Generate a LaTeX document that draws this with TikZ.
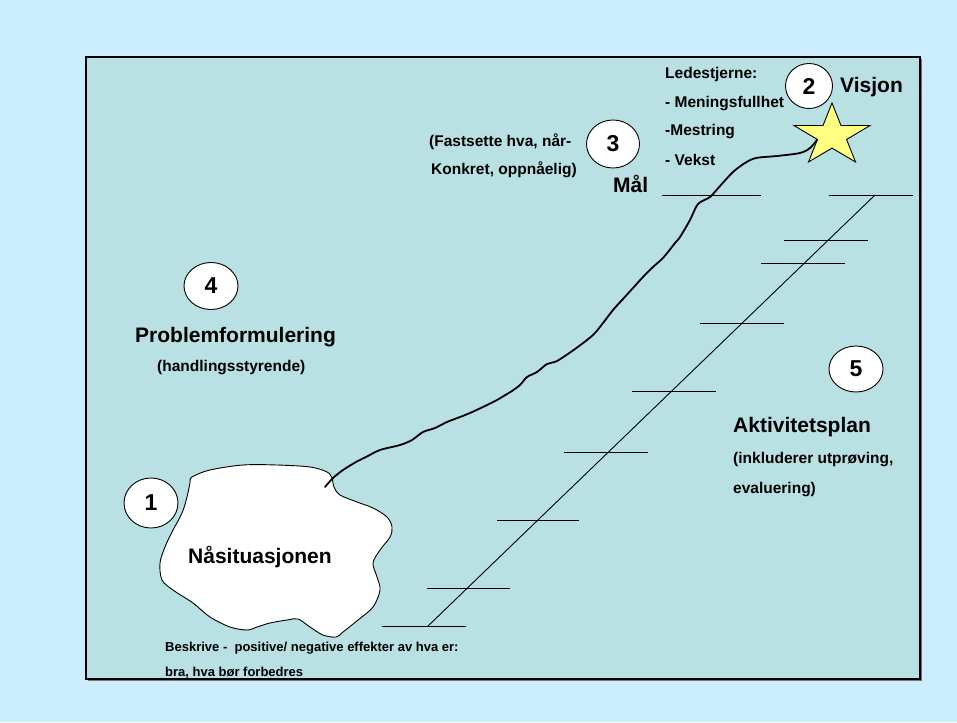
\documentclass[tikz,border=0pt]{standalone}
\usepackage{fontspec}
\setmainfont{Liberation Sans}
\usetikzlibrary{shapes.geometric,calc}
\definecolor{outerbg}{RGB}{204,236,255}
\definecolor{innerbg}{RGB}{185,224,227}
\definecolor{staryellow}{RGB}{255,255,128}
\tikzset{
  num/.style={ellipse,draw=black,line width=0.9pt,fill=white,inner sep=0pt,
    font=\fontsize{23}{26}\selectfont\bfseries},
  big/.style={anchor=base west,inner sep=0pt,font=\fontsize{21}{24}\selectfont\bfseries},
  small/.style={anchor=base west,inner sep=0pt,font=\fontsize{15.5}{18}\selectfont\bfseries},
  tiny/.style={anchor=base west,inner sep=0pt,font=\fontsize{13}{16}\selectfont\bfseries},
  stair/.style={line width=1pt,draw=black},
  diag/.style={line width=0.9pt,draw=black},
  squiggle/.style={line width=1.8pt,draw=black,line cap=round,line join=round},
}
\begin{document}
\begin{tikzpicture}[x=1pt,y=-1pt]
\useasboundingbox (0,0) rectangle (957,722);
\fill[outerbg] (0,0) rectangle (957,722);
% frame
\fill[black!55] (88,59) rectangle (922,681);
\draw[fill=innerbg,line width=1.4pt] (86,57) rectangle (920,679);

% cloud (Nasituasjonen)
\draw[fill=white,line width=0.9pt] plot[smooth cycle,tension=0.55] coordinates {
 (192,477) (210,470) (243,465) (277,465) (310,467) (327,472) (332,478) (334,487)
 (340,495) (357,502) (373,508) (387,517) (392,527) (390,537) (380,550) (373,563)
 (377,577) (380,590) (373,607) (358,620) (343,632) (336,637) (323,635) (310,627)
 (298,619) (287,620) (270,623) (257,627) (247,630) (230,627) (210,617) (193,603)
 (173,590) (162,580) (160,563) (165,547) (172,532) (182,513) (187,497) (190,483)};
\node[big] (nasit) at (188,563) {Nåsituasjonen};

% staircase
\coordinate (dbot) at (428,626);
\coordinate (dtop) at (875,195);
\draw[diag] (dbot) -- (dtop);
\draw[stair] (382,626) -- (466,626);
\draw[stair] (427,588) -- (510,588);
\draw[stair] (497,520) -- (579,520);
\draw[stair] (564,452) -- (648,452);
\draw[stair] (632,391) -- (716,391);
\draw[stair] (700,323) -- (784,323);
\draw[stair] (761,263) -- (845,263);
\draw[stair] (784,240) -- (868,240);
\draw[stair] (829,195) -- (913,195);
\draw[stair] (662,195) -- (761,195);

% star
\coordinate (sc) at (832,135.6);
\draw[fill=staryellow,line width=0.9pt]
  ($(sc)+(270:40 and 32.6)$) -- ($(sc)+(306:15.3 and 12.5)$) --
  ($(sc)+(342:40 and 32.6)$) -- ($(sc)+(18:15.3 and 12.5)$) --
  ($(sc)+(54:40 and 32.6)$) -- ($(sc)+(90:15.3 and 12.5)$) --
  ($(sc)+(126:40 and 32.6)$) -- ($(sc)+(162:15.3 and 12.5)$) --
  ($(sc)+(198:40 and 32.6)$) -- ($(sc)+(234:15.3 and 12.5)$) -- cycle;

% squiggly path from cloud to star
\draw[squiggle] plot[smooth,tension=0.5] coordinates {
 (325,487) (333,478) (343,470) (356,462) (366,457) (380,450) (400,445) (412,440)
 (423,432) (435,428) (447,422) (460,417) (470,413) (485,406) (497,400) (507,394)
 (512,391) (520,385) (527,377) (537,372) (547,364) (557,361) (575,349) (593,335)
 (603,323) (613,310) (623,299) (633,288) (643,277) (653,267) (662,259) (668,252)
 (675,243) (680,237) (690,220) (698,204) (710,197) (720,186) (733,172) (745,163)
 (756,158) (777,156) (800,153) (810,148) (817,140)};

% numbered ellipses
\node[num,minimum width=54pt,minimum height=50pt] (n1) at (151,503) {1};
\node[num,minimum width=47pt,minimum height=45pt] (n2) at (809,86) {2};
\node[num,minimum width=53pt,minimum height=48pt] (n3) at (613,144) {3};
\node[num,minimum width=54pt,minimum height=47pt] (n4) at (211,286) {4};
\node[num,minimum width=54pt,minimum height=46pt] (n5) at (856,369) {5};

% texts
\node[small] (led) at (665,79) {Ledestjerne:};
\node[small] (men) at (665,108) {- Meningsfullhet};
\node[small] (mes) at (665,136) {-Mestring};
\node[small] (vek) at (665,165) {- Vekst};
\node[big] (vis) at (840,93) {Visjon};
\node[small] (fast) at (429,147) {(Fastsette hva, når-};
\node[small] (konk) at (431,175) {Konkret, oppnåelig)};
\node[big] (mal) at (613,192) {Mål};
\node[big] (prob) at (135,342) {Problemformulering};
\node[small] (hand) at (157,371) {(handlingsstyrende)};
\node[big] (akt) at (733,432) {Aktivitetsplan};
\node[small] (inkl) at (733,463) {(inkluderer utprøving,};
\node[small] (eval) at (733,493) {evaluering)};
\node[tiny] (besk) at (165,651) {Beskrive -\ \ positive/ negative effekter av hva er:};
\node[tiny] (bra) at (165,676) {bra, hva bør forbedres};
\end{tikzpicture}
\end{document}
